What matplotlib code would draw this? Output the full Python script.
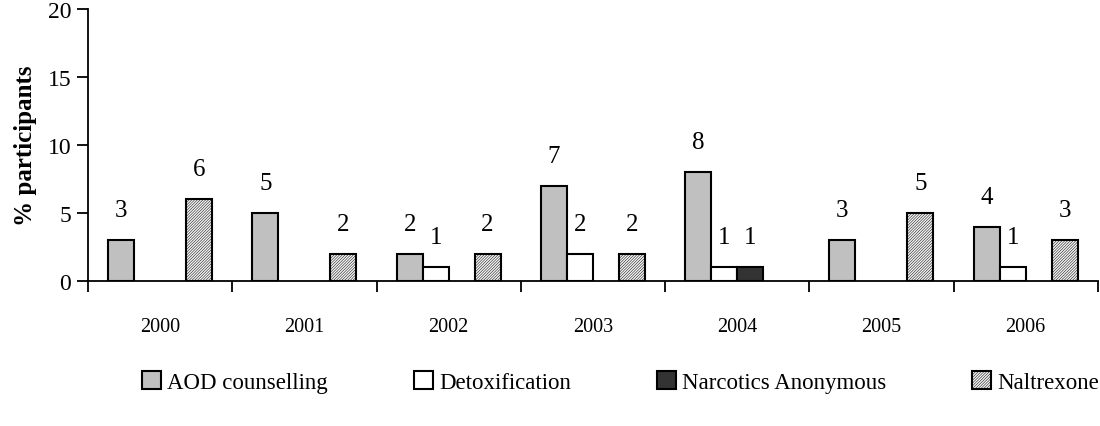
import numpy as np
import matplotlib
matplotlib.use("Agg")
import matplotlib.pyplot as plt

plt.rcParams['font.family'] = ['Liberation Serif', 'DejaVu Serif']
plt.rcParams['hatch.color'] = '#999999'
plt.rcParams['hatch.linewidth'] = 0.35

years = ['2000', '2001', '2002', '2003', '2004', '2005', '2006']
series_names = ['AOD counselling', 'Detoxification', 'Narcotics Anonymous', 'Naltrexone']
aod = [3, 5, 2, 7, 8, 3, 4]
detox = [0, 0, 1, 2, 1, 0, 1]
narcotics = [0, 0, 0, 0, 1, 0, 0]
naltrexone = [6, 2, 2, 2, 0, 5, 3]

all_series = [aod, detox, narcotics, naltrexone]
faces = ['#c0c0c0', 'white', '#333333', '#f4f4f4']
hatches = [None, None, None, '////////////']

fig = plt.figure(figsize=(11, 4.27), dpi=100)
ax = fig.add_axes([0.08, 0.3396, 0.918, 0.637])

x = np.arange(len(years))
width = 0.18
for i, (vals, name) in enumerate(zip(all_series, series_names)):
    pos = x + (i - 1.5) * width
    vals = np.array(vals, dtype=float)
    # skip zero values, they show no bar and no label
    mask = vals > 0
    ax.bar(pos[mask], vals[mask], width, color=faces[i], edgecolor='black',
           linewidth=1.5, hatch=hatches[i], label=name, zorder=3)
    for p, v in zip(pos[mask], vals[mask]):
        ax.text(p, v + 2.2, f"{int(v)}", ha='center', va='center', fontsize=18)

ax.set_xlim(-0.5, len(years) - 0.5)
ax.set_ylim(0, 20)
ax.set_yticks([0, 5, 10, 15, 20])
ax.set_xticks(np.arange(-0.5, len(years) + 0.5, 1.0))
ax.set_xticklabels([])
ax.set_xticks(x, minor=True)
ax.set_xticklabels(years, minor=True, fontsize=14.5)
ax.tick_params(axis='x', which='minor', length=0, pad=26)
ax.tick_params(axis='x', which='major', direction='out', length=8, width=1.3)
ax.tick_params(axis='y', direction='out', length=8, width=1.3, labelsize=17, pad=4)

for s in ['top', 'right']:
    ax.spines[s].set_visible(False)
for s in ['left', 'bottom']:
    ax.spines[s].set_linewidth(1.3)

ax.set_ylabel('% participants', fontsize=18, fontweight='bold', labelpad=8)

handles, labels = ax.get_legend_handles_labels()
fig.legend(handles, labels, loc='center', bbox_to_anchor=(0.564, 0.103), ncol=4,
           frameon=False, fontsize=16.5, handlelength=0.85, handleheight=0.85,
           handletextpad=0.25, columnspacing=3.75)

fig.savefig('out.png', dpi=100)
